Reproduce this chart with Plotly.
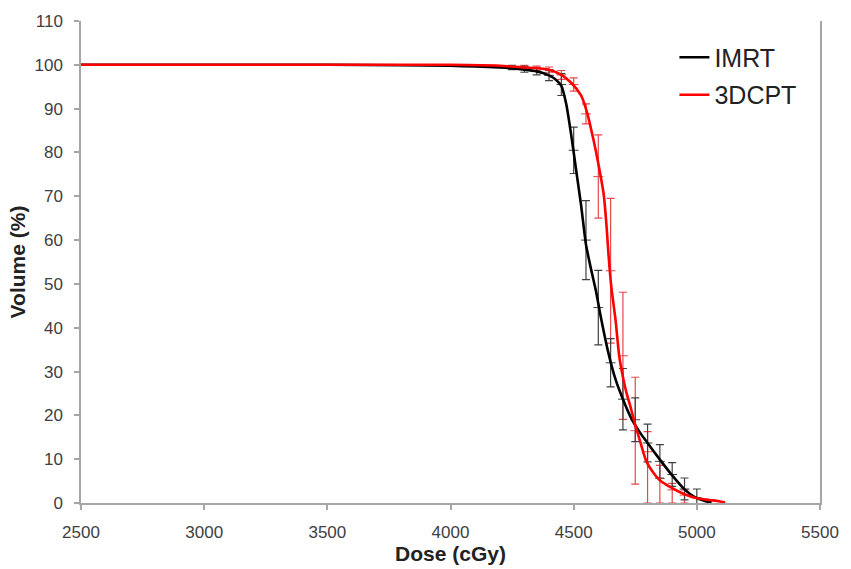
import plotly.graph_objects as go

# ---- data ----
imrt_dose = [2500, 3000, 3500, 3800, 4000, 4100, 4200, 4300, 4350, 4400, 4430, 4450, 4470, 4490,
             4510, 4530, 4550, 4570, 4590, 4610, 4640, 4670, 4700, 4735, 4770, 4800, 4850, 4900,
             4950, 4990, 5030, 5060]
imrt_vol = [100, 100, 100, 99.9, 99.8, 99.6, 99.4, 98.9, 98.5, 97.6, 96.5, 95.2, 91, 84,
            76, 68, 59, 53.5, 48.5, 42.5, 34.5, 28.2, 23.7, 19.2, 16, 13.7, 9.9, 6.3,
            3.1, 1.4, 0.5, 0.1]

pt_dose = [2500, 3000, 3500, 4000, 4200, 4300, 4400, 4450, 4490, 4530, 4555, 4580, 4600, 4622,
           4634, 4641, 4653, 4670, 4685, 4702, 4715, 4730, 4745, 4770, 4795, 4820, 4850, 4900,
           4950, 5000, 5050, 5090, 5115]
pt_vol = [100, 100, 100, 100, 99.8, 99.4, 98.9, 97.7, 95.9, 93, 89, 83, 77.5, 70.4,
          62.8, 57, 49.2, 41.8, 33.5, 28.2, 25, 22.1, 18.8, 14, 9.5, 7.2, 5.2, 3.4,
          2.0, 1.1, 0.7, 0.4, 0.1]

imrt_bar_dose = [4250, 4300, 4350, 4400, 4450, 4500, 4550, 4600, 4650, 4700, 4750, 4800, 4850, 4900, 4950, 5000]
imrt_bar_mid = [99.4, 99.0, 98.5, 97.6, 95.5, 80.5, 60.0, 44.6, 32.0, 23.7, 19.0, 13.7, 9.5, 6.5, 3.2, 1.2]
imrt_bar_err = [0.5, 0.7, 0.8, 1.2, 2.5, 5.3, 9.0, 8.5, 5.5, 7.0, 5.0, 4.3, 3.8, 2.7, 2.5, 2.0]

pt_bar_dose = [4300, 4350, 4400, 4450, 4500, 4550, 4600, 4650, 4700, 4750, 4800, 4850, 4900, 4950]
pt_bar_mid = [99.5, 99.2, 98.9, 97.7, 95.5, 88.8, 74.5, 53.0, 33.6, 16.5, 11.7, 5.6, 3.0, 1.8]
pt_bar_plus = [0.4, 0.5, 0.6, 1.0, 1.5, 2.3, 9.5, 16.5, 14.5, 12.2, 4.6, 3.0, 1.5, 1.2]
pt_bar_minus = [0.4, 0.5, 0.6, 1.0, 1.5, 2.3, 9.5, 16.5, 14.5, 12.2, 11.7, 5.6, 3.0, 1.8]

x_ticks = [2500, 3000, 3500, 4000, 4500, 5000, 5500]
y_ticks = [0, 10, 20, 30, 40, 50, 60, 70, 80, 90, 100, 110]

FONT = "Arial, Liberation Sans, sans-serif"
AXIS_GREY = "#a6a6a6"

fig = go.Figure()

# error bars (drawn first, under curves)
fig.add_trace(go.Scatter(
    x=pt_bar_dose, y=pt_bar_mid, mode="markers",
    marker=dict(symbol="line-ew-open", size=7, color="#e8474c", line=dict(width=1, color="#e8474c")),
    error_y=dict(type="data", symmetric=False, array=pt_bar_plus, arrayminus=pt_bar_minus,
                 color="#e8474c", thickness=1.2, width=4),
    showlegend=False, hoverinfo="skip"))
fig.add_trace(go.Scatter(
    x=imrt_bar_dose, y=imrt_bar_mid, mode="markers",
    marker=dict(symbol="line-ew-open", size=7, color="#404040", line=dict(width=1, color="#404040")),
    error_y=dict(type="data", array=imrt_bar_err, color="#404040", thickness=1.2, width=4),
    showlegend=False, hoverinfo="skip"))

# curves
fig.add_trace(go.Scatter(x=imrt_dose, y=imrt_vol, mode="lines", name="IMRT",
                         line=dict(color="#000000", width=2.6, shape="spline", smoothing=0.6),
                         legendgroup="a"))
fig.add_trace(go.Scatter(x=pt_dose, y=pt_vol, mode="lines", name="3DCPT",
                         line=dict(color="#ff0000", width=2.6, shape="spline", smoothing=0.6),
                         legendgroup="b"))

fig.update_layout(
    width=851, height=569,
    margin=dict(l=81, r=22, t=18, b=64),
    paper_bgcolor="white", plot_bgcolor="white",
    font=dict(family=FONT, color="#404040", size=17),
    legend=dict(x=0.803, y=0.972, xanchor="left", yanchor="top",
                font=dict(family=FONT, size=25, color="#222222"),
                bgcolor="rgba(0,0,0,0)", tracegroupgap=2, itemwidth=30,
                traceorder="grouped"),
    xaxis=dict(range=[2500, 5500], tickvals=x_ticks, ticktext=[str(v) for v in x_ticks],
               showgrid=False, zeroline=False, showline=True, linecolor=AXIS_GREY, linewidth=1.5,
               ticks="outside", ticklen=5, tickcolor=AXIS_GREY, tickwidth=1.5,
               tickfont=dict(family=FONT, size=17, color="#404040"),
               ticklabelstandoff=8,
               title=dict(text="<b>Dose (cGy)</b>", font=dict(family=FONT, size=21, color="#222222"),
                          standoff=0)),
    yaxis=dict(range=[0, 110], tickvals=y_ticks, ticktext=[str(v) for v in y_ticks],
               showgrid=False, zeroline=False, showline=True, mirror=True,
               linecolor=AXIS_GREY, linewidth=1.5,
               ticks="outside", ticklen=5, tickcolor=AXIS_GREY, tickwidth=1.5,
               tickfont=dict(family=FONT, size=17, color="#404040"),
               ticklabelstandoff=8,
               title=dict(text="<b>Volume (%)</b>", font=dict(family=FONT, size=21, color="#222222"),
                          standoff=3)),
)

fig.write_html("out.html", config={"displayModeBar": False},
               post_script="document.body.style.margin='0';")
